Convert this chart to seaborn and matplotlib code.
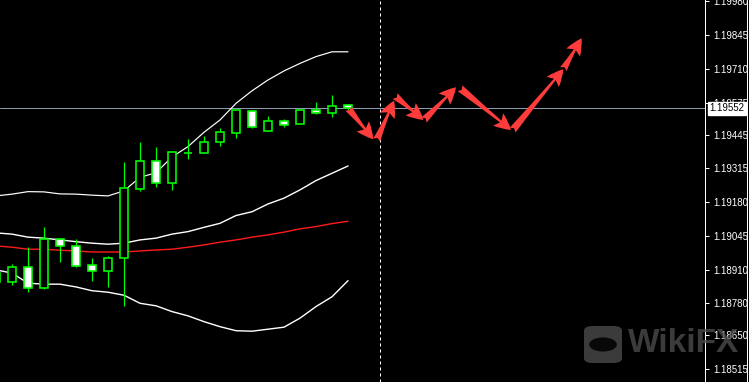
import numpy as np
import pandas as pd
import matplotlib
matplotlib.use("Agg")
import matplotlib.pyplot as plt
import seaborn as sns
from matplotlib.patches import FancyBboxPatch, Circle

# ---------------- data ----------------
opens = [1.18898, 1.18863, 1.18923, 1.18837, 1.19033, 1.19004, 1.18928, 1.18905,
         1.18956, 1.19230, 1.19344, 1.19254, 1.19376, 1.19374, 1.19417, 1.19455,
         1.19542, 1.19463, 1.19501, 1.19489, 1.19546, 1.19533, 1.19566]
highs = [1.18902, 1.18934, 1.19000, 1.19079, 1.19036, 1.19032, 1.18959, 1.18965,
         1.19338, 1.19420, 1.19397, 1.19383, 1.19429, 1.19442, 1.19475, 1.19546,
         1.19546, 1.19522, 1.19510, 1.19550, 1.19577, 1.19605, 1.19570]
lows = [1.18854, 1.18850, 1.18823, 1.18834, 1.18943, 1.18923, 1.18867, 1.18843,
        1.18768, 1.19225, 1.19241, 1.19228, 1.19351, 1.19374, 1.19404, 1.19433,
        1.19475, 1.19463, 1.19479, 1.19489, 1.19529, 1.19519, 1.19543]
closes = [1.18862, 1.18923, 1.18837, 1.19033, 1.19005, 1.18927, 1.18905, 1.18956,
          1.19234, 1.19344, 1.19254, 1.19378, 1.19376, 1.19417, 1.19457, 1.19546,
          1.19479, 1.19501, 1.19487, 1.19546, 1.19535, 1.19562, 1.19552]

band_upper = [1.19204, 1.19211, 1.19221, 1.19220, 1.19212, 1.19211, 1.19207, 1.19204,
              1.19224, 1.19278, 1.19296, 1.19359, 1.19400, 1.19457, 1.19506, 1.19572,
              1.19622, 1.19665, 1.19701, 1.19731, 1.19758, 1.19777, 1.19777]
band_mid = [1.19057, 1.19052, 1.19040, 1.19036, 1.19029, 1.19022, 1.19016, 1.19012,
            1.19016, 1.19029, 1.19036, 1.19052, 1.19062, 1.19079, 1.19095, 1.19126,
            1.19141, 1.19172, 1.19195, 1.19228, 1.19265, 1.19294, 1.19323]
ma_red = [1.19005, 1.19000, 1.18992, 1.18992, 1.18988, 1.18985, 1.18981, 1.18981,
          1.18981, 1.18985, 1.18989, 1.18992, 1.19000, 1.19009, 1.19020, 1.19029,
          1.19040, 1.19049, 1.19060, 1.19073, 1.19082, 1.19094, 1.19103]
band_lower = [1.18910, 1.18897, 1.18857, 1.18853, 1.18853, 1.18842, 1.18827, 1.18821,
              1.18809, 1.18777, 1.18767, 1.18744, 1.18727, 1.18704, 1.18684, 1.18668,
              1.18666, 1.18674, 1.18682, 1.18718, 1.18764, 1.18803, 1.18867]

current_price = 1.19552
current_label = "1.19552"
divider_bar = 24.0

# forecast arrows: (tail bar, tail price, head bar, head price)
arrow_tail_x = [22.02, 23.79, 24.94, 26.75, 29.00, 32.29, 35.46]
arrow_tail_y = [1.19552, 1.19426, 1.19601, 1.19506, 1.19632, 1.19466, 1.19708]
arrow_head_x = [23.58, 24.88, 26.71, 28.75, 32.19, 35.46, 36.60]
arrow_head_y = [1.19429, 1.19583, 1.19506, 1.19636, 1.19466, 1.19708, 1.19831]

tick_values = [1.19980, 1.19845, 1.19710, 1.19575, 1.19445, 1.19315, 1.19180,
               1.19045, 1.18910, 1.18780, 1.18650, 1.18515]
tick_labels = ["1.19980", "1.19845", "1.19710", "1.19575", "1.19445", "1.19315",
               "1.19180", "1.19045", "1.18910", "1.18780", "1.18650", "1.18515"]

# ---------------- style ----------------
sns.set_theme(style="dark")
plt.rcParams["font.family"] = ["Liberation Sans", "DejaVu Sans"]

W, H, DPI = 749, 382, 100
PX = 72.0 / DPI  # one pixel in points

fig = plt.figure(figsize=(W / DPI, H / DPI), dpi=DPI, facecolor="black")
ax = fig.add_axes([0, 0, 705 / W, 1])
ax.set_facecolor("black")

idx = np.arange(len(opens))
df = pd.DataFrame({"i": idx, "o": opens, "h": highs, "l": lows, "c": closes,
                   "up": band_upper, "mid": band_mid, "ma": ma_red, "lo": band_lower})

# indicator lines
sns.lineplot(data=df, x="i", y="up", color="white", lw=1.2 * PX, ax=ax, zorder=2)
sns.lineplot(data=df, x="i", y="mid", color="white", lw=1.4 * PX, ax=ax, zorder=2)
sns.lineplot(data=df, x="i", y="ma", color="#ff1a1a", lw=1.4 * PX, ax=ax, zorder=2)
sns.lineplot(data=df, x="i", y="lo", color="white", lw=1.4 * PX, ax=ax, zorder=2)

# current price line & divider
ax.axhline(current_price, color="#8d9bb0", lw=1 * PX, zorder=1)
ax.axvline(divider_bar, color="white", lw=1 * PX, ls=(0, (3, 3)), zorder=1)

# candles
green = "#00ff00"
ax.vlines(df["i"], df["l"], df["h"], color=green, lw=1.2 * PX, zorder=3)
bottoms = np.minimum(df["o"], df["c"])
heights = np.abs(df["c"] - df["o"])
faces = ["black" if c > o else ("white" if c < o else green) for o, c in zip(opens, closes)]
ax.bar(df["i"], heights, bottom=bottoms, width=0.56, color=faces,
       edgecolor=green, linewidth=1.6 * PX, zorder=4)

# arrows
for tx, ty, hx, hy in zip(arrow_tail_x, arrow_tail_y, arrow_head_x, arrow_head_y):
    ax.annotate("", xy=(hx, hy), xytext=(tx, ty),
                arrowprops=dict(arrowstyle="fancy,head_length=1.0,head_width=0.95,tail_width=0.45",
                                color="#ff3c3c", shrinkA=0, shrinkB=0, lw=0,
                                mutation_scale=12),
                zorder=6)

# axes limits
ax.set_xlim(0.25, 44.31)
ax.set_ylim(1.18464, 1.19983)
ax.set_xticks([])
ax.yaxis.tick_right()
ax.set_yticks(tick_values)
ax.set_yticklabels(tick_labels)
ax.tick_params(axis="y", colors="white", labelcolor="white", length=4 * PX,
               width=1 * PX, labelsize=7, pad=4 * PX, direction="out")
ax.grid(False)
for s in ["left", "top", "bottom"]:
    ax.spines[s].set_visible(False)
ax.spines["right"].set_color("white")
ax.spines["right"].set_linewidth(1 * PX)
ax.set_xlabel("")
ax.set_ylabel("")

# current price tag
ax.annotate(current_label, xy=(1.0, current_price), xycoords=("axes fraction", "data"),
            xytext=(3.3, 0), textcoords="offset points", va="center", ha="left",
            fontsize=7, color="black",
            bbox=dict(boxstyle="square,pad=0.15", fc="white", ec="white"),
            zorder=10, annotation_clip=False)

# right frame line
fig.add_artist(plt.Line2D([746.5 / W, 746.5 / W], [0, 1], color="white", lw=1 * PX,
                          transform=fig.transFigure))

# watermark
wm = "#505050"
logo = FancyBboxPatch((584 / W, (H - 363) / H), 38 / W, 37 / H,
                      boxstyle="round,pad=0,rounding_size=0.012",
                      transform=fig.transFigure, fc=wm, ec="none", alpha=0.75, zorder=20)
fig.add_artist(logo)
fig.add_artist(Circle((603 / W, (H - 344.5) / H), 0.0185, transform=fig.transFigure,
                      fc="black", ec="none", alpha=0.85, zorder=21))
fig.text(628 / W, (H - 343) / H, "WikiFX", fontsize=24, fontweight="bold",
         color=wm, alpha=0.75, va="center", ha="left", zorder=20)

fig.savefig("out.png", dpi=DPI, facecolor="black")
